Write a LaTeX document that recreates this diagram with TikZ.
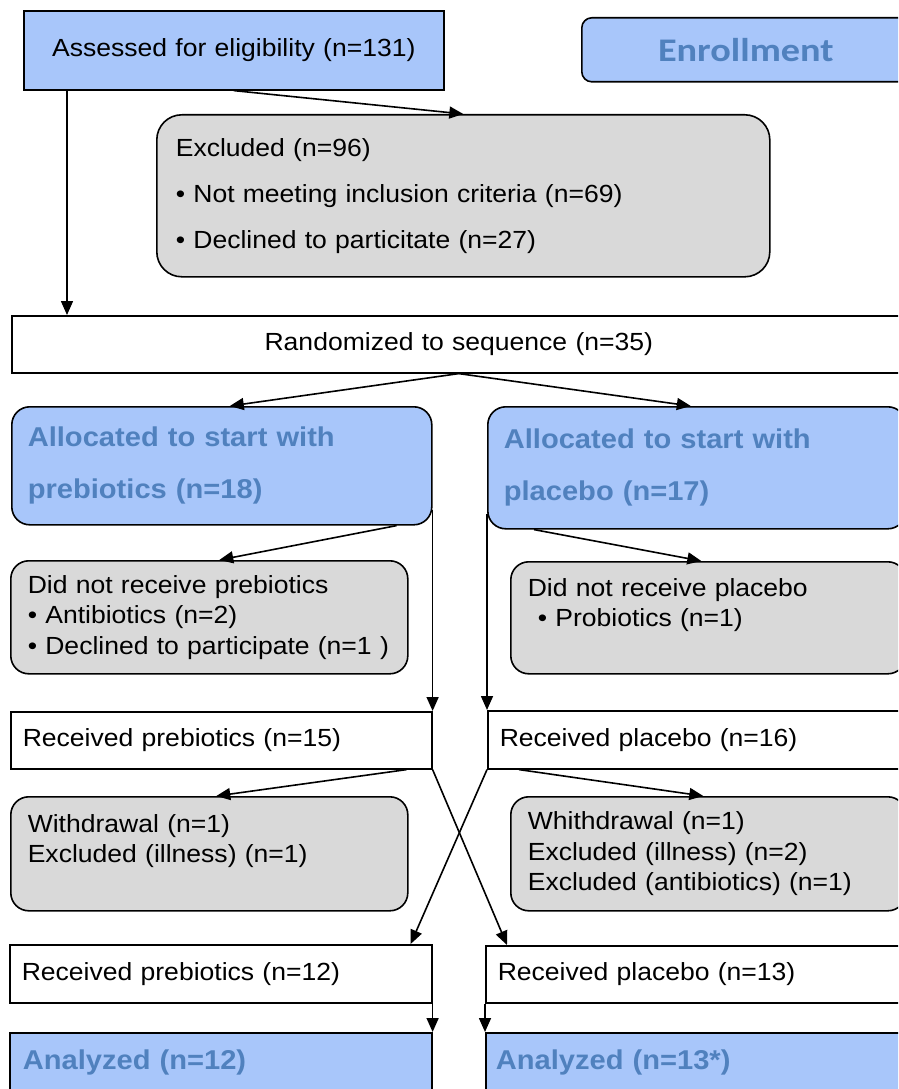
\documentclass[tikz,border=0pt]{standalone}
\usepackage{fontspec}
\setmainfont{Liberation Sans}[FakeStretch=1.07]
\newfontfamily\calfont{Carlito}[FakeStretch=1.16]
\usetikzlibrary{arrows.meta}

\definecolor{boxblue}{RGB}{168,198,250}
\definecolor{textblue}{RGB}{80,129,190}
\definecolor{boxgray}{RGB}{217,217,217}

\tikzset{
  box/.style={draw=black, line width=1.6pt, anchor=north west, inner ysep=0pt,
    align=left, fill=white, font=\fontsize{24.8}{30.5}\selectfont},
  bluebox/.style={box, fill=boxblue, text=textblue,
    font=\bfseries\fontsize{27.2}{52}\selectfont},
  graybox/.style={box, fill=boxgray, rounded corners=18pt},
  arr/.style={line width=1.6pt, -{Triangle[length=14pt,width=12pt]}},
}

\begin{document}
\begin{tikzpicture}[%
      x=1pt, y=-1pt,
      ]
      \useasboundingbox (0,0) rectangle (898,1089);
      \clip (0,0) rectangle (898,1089);

      % enrollment
      \node [box, fill=boxblue, align=center, minimum width=420pt, minimum height=79pt,
        text width=400pt, inner xsep=10pt] (assessed) at (23,10) {Assessed for eligibility (n=131)};
      \node [box, fill=boxblue, text=textblue, rounded corners=10pt, align=center,
        minimum width=328pt, minimum height=64pt, text width=308pt, inner xsep=10pt,
        font=\calfont\bfseries\fontsize{33}{40}\selectfont] (enrol) at (581,17) {Enrollment};
      \node [graybox, rounded corners=25pt, minimum width=613pt, minimum height=162pt,
        text width=575pt, inner xsep=19pt] (excl) at (156,114)
        {Excluded (n=96)\\[15.5pt]• Not meeting inclusion criteria (n=69)\\[15.5pt]• Declined to particitate (n=27)};
      \coordinate (enrl) at ([xshift=44pt]assessed.south west);

      % allocation
      \node [box, align=center, minimum width=894pt, minimum height=57pt,
        text width=874pt, inner xsep=10pt] (rand) at (11,315) {Randomized to sequence (n=35)};
      \node [bluebox, rounded corners=18pt, minimum width=420pt, minimum height=118pt,
        text width=388pt, inner xsep=16pt] (allocP) at (11,406) {Allocated to start with\\prebiotics (n=18)};
      \node [bluebox, rounded corners=18pt, minimum width=418pt, minimum height=122pt,
        text width=386pt, inner xsep=16pt] (allocQ) at (487,406) {Allocated to start with\\placebo (n=17)};
      \node [graybox, minimum width=397pt, minimum height=113pt,
        text width=363pt, inner xsep=17pt] (didP) at (10,560)
        {Did not receive prebiotics\\• Antibiotics (n=2)\\• Declined to participate (n=1 )};
      \node [graybox, minimum width=395pt, minimum height=112pt,
        text width=361pt, inner xsep=17pt] (didQ) at (510,561)
        {Did not receive placebo\\\hspace*{10pt}• Probiotics (n=1)\\~};

      % first period
      \node [box, minimum width=421pt, minimum height=57pt,
        text width=397pt, inner xsep=12pt] (recvP1) at (10,711) {Received prebiotics (n=15)};
      \node [box, minimum width=418pt, minimum height=58pt,
        text width=394pt, inner xsep=12pt] (recvQ1) at (487,710) {Received placebo (n=16)};
      \node [graybox, minimum width=397pt, minimum height=114pt,
        text width=363pt, inner xsep=17pt] (wdP) at (10,796)
        {Withdrawal (n=1)\\Excluded (illness) (n=1)\\~};
      \node [graybox, minimum width=395pt, minimum height=114pt,
        text width=361pt, inner xsep=17pt] (wdQ) at (510,796)
        {Whithdrawal (n=1)\\Excluded (illness) (n=2)\\Excluded (antibiotics) (n=1)};

      % second period
      \node [box, minimum width=422pt, minimum height=58pt,
        text width=398pt, inner xsep=12pt] (recvP2) at (9,944) {Received prebiotics (n=12)};
      \node [box, minimum width=420pt, minimum height=57pt,
        text width=396pt, inner xsep=12pt] (recvQ2) at (485,945) {Received placebo (n=13)};

      % analysis
      \node [bluebox, minimum width=422pt, minimum height=60pt,
        text width=396pt, inner xsep=13pt] (anaP) at (9,1032) {Analyzed (n=12)};
      \node [bluebox, minimum width=420pt, minimum height=60pt,
        text width=400pt, inner xsep=10pt] (anaQ) at (485,1032) {Analyzed (n=13*)};

      \draw [arr] (assessed.south) -- (excl.north);
      \draw [arr] (enrl) -- (enrl |- rand.north);
      \draw [arr] (rand.south) -- ([xshift=8pt]allocP.north);
      \draw [arr] (rand.south) -- ([xshift=-6pt]allocQ.north);
      \draw [arr] ([xshift=-36pt]allocP.south east) -- ([xshift=10pt]didP.north);
      \draw [arr] ([xshift=47pt]allocQ.south west) -- ([xshift=-7pt]didQ.north);
      \draw [arr] ([yshift=16pt]allocP.south east) -- (recvP1.north east);
      \draw [arr] ([yshift=16pt]allocQ.south west) -- (recvQ1.north west);
      \draw [arr] ([xshift=-26pt]recvP1.south east) -- ([xshift=7pt]wdP.north);
      \draw [arr] ([xshift=32pt]recvQ1.south west) -- ([xshift=-5pt]wdQ.north);
      \draw [arr] (recvP1.south east) -- ([xshift=22pt]recvQ2.north west);
      \draw [arr] (recvQ1.south west) -- ([xshift=-22pt]recvP2.north east);
      \draw [arr] (recvP2.south east) -- (anaP.north east);
      \draw [arr] (recvQ2.south west) -- (anaQ.north west);
      \end{tikzpicture}
\end{document}
